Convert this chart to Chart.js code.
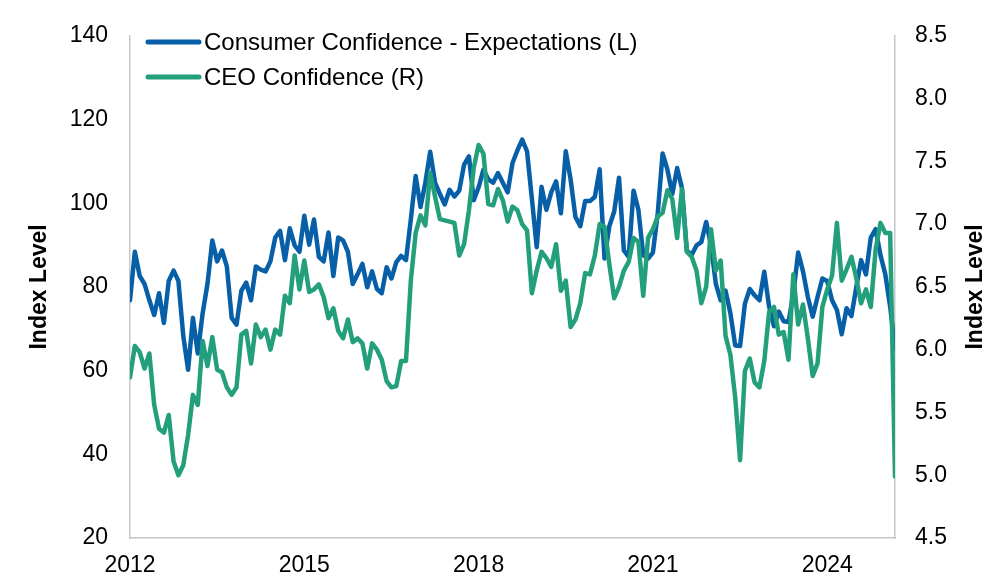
<!DOCTYPE html>
<html>
<head>
<meta charset="utf-8">
<script src="https://cdn.jsdelivr.net/npm/chart.js@4.4.1/dist/chart.umd.min.js"></script>
<style>
  html, body { margin: 0; padding: 0; background: #fff; }
  canvas { display: block; }
</style>
</head>
<body>
<canvas id="confChart" width="1005" height="577"></canvas>
<script>
// Monthly values, Jan 2012 onward
const consumerExpectations = [
  76.8, 88.4, 82.6, 80.7, 76.8, 73.3, 78.5, 71.4, 81.4, 83.9, 81.4, 68.3,
  60.2, 72.6, 64.1, 73.7, 80.7, 91.1, 86.1, 88.7, 84.9, 72.6, 71.0, 79.1,
  81.0, 76.8, 84.9, 84.1, 83.7, 86.1, 91.8, 93.4, 86.4, 94.0, 89.9, 88.4,
  97.0, 90.1, 96.1, 87.2, 86.1, 93.0, 82.6, 91.8, 91.1, 88.4, 80.7, 83.0,
  85.5, 79.9, 83.7, 79.5, 78.5, 84.7, 82.0, 85.9, 87.4, 86.4, 96.1, 106.5,
  99.1, 104.9, 112.3, 104.9, 102.2, 99.7, 103.2, 101.6, 103.0, 109.2, 111.2, 100.7,
  103.8, 108.0, 105.7, 104.9, 107.2, 104.9, 102.6, 109.6, 112.6, 115.2, 112.4, 101.1,
  89.5, 103.9, 98.4, 102.6, 105.2, 97.6, 112.4, 105.7, 96.7, 94.5, 100.5, 100.5,
  101.5, 108.1, 86.8, 94.5, 98.0, 106.1, 88.7, 87.2, 103.0, 98.4, 87.6, 86.8,
  88.2, 97.6, 111.9, 108.0, 102.2, 108.4, 103.6, 88.7, 87.6, 89.9, 90.7, 95.5,
  89.9, 80.7, 76.8, 79.1, 73.7, 66.0, 65.9, 76.0, 79.5, 78.0, 76.8, 83.6,
  75.3, 70.6, 74.1, 71.8, 71.6, 78.3, 88.2, 83.7, 77.6, 72.9, 77.6, 82.0,
  81.4, 76.8, 74.5, 68.7, 74.9, 73.0, 79.9, 86.4, 83.0, 91.8, 93.8, 87.6,
  83.0, 75.3, 65.2
];

const ceoConfidence = [
  5.78, 6.03, 5.98, 5.85, 5.97, 5.56, 5.37, 5.34, 5.48, 5.11, 5.00, 5.08,
  5.32, 5.64, 5.56, 6.07, 5.87, 6.10, 5.84, 5.82, 5.70, 5.64, 5.70, 6.12,
  6.15, 5.89, 6.20, 6.10, 6.16, 6.00, 6.16, 6.12, 6.43, 6.37, 6.75, 6.48,
  6.71, 6.46, 6.48, 6.52, 6.42, 6.25, 6.33, 6.15, 6.09, 6.24, 6.06, 6.09,
  6.05, 5.85, 6.05, 6.00, 5.92, 5.75, 5.70, 5.71, 5.91, 5.91, 6.55, 6.93,
  7.07, 6.99, 7.41, 7.22, 7.04, 7.03, 7.02, 7.01, 6.75, 6.84, 7.11, 7.45,
  7.63, 7.56, 7.16, 7.15, 7.28, 7.19, 7.02, 7.14, 7.11, 7.00, 6.95, 6.45,
  6.63, 6.78, 6.73, 6.66, 6.84, 6.47, 6.55, 6.18, 6.24, 6.37, 6.61, 6.60,
  6.75, 7.00, 6.98, 6.68, 6.41, 6.50, 6.63, 6.70, 6.89, 6.86, 6.43, 6.89,
  6.96, 7.06, 7.09, 7.27, 7.20, 6.89, 7.28, 6.78, 6.74, 6.63, 6.37, 6.50,
  6.96, 6.63, 6.71, 6.11, 5.96, 5.62, 5.12, 5.83, 5.93, 5.74, 5.70, 5.91,
  6.30, 6.34, 6.12, 6.14, 5.92, 6.60, 6.20, 6.36, 6.09, 5.79, 5.89, 6.34,
  6.48, 6.59, 7.01, 6.55, 6.64, 6.74, 6.57, 6.37, 6.48, 6.34, 6.80, 7.01,
  6.93, 6.93, 4.99
];

// x axis labels sit every 36 months
const tickIdx = [0, 36, 72, 108, 144];
const tickLabels = ['2012', '2015', '2018', '2021', '2024'];

const blueColor = '#075FA8',
  greenColor = '#23A07B',
  axisColor = '#C3C7CB',
  fontFamily = '"Liberation Sans", Arial, sans-serif';

const tickFont = { family: fontFamily, size: 23 };
const titleFont = { family: fontFamily, size: 23, weight: 'bold' };

// Legend sits inside the plot, top left; right title reads bottom-to-top
const overlayPlugin = {
  id: 'overlay',
  afterDraw(chart) {
    const ctx = chart.ctx;
    ctx.save();
    chart.data.datasets.forEach((ds, i) => {
      const y = 42 + i * 35;
      ctx.strokeStyle = ds.borderColor;
      ctx.lineWidth = 5;
      ctx.lineCap = 'round';
      ctx.beginPath();
      ctx.moveTo(148, y);
      ctx.lineTo(199, y);
      ctx.stroke();
      ctx.fillStyle = '#000';
      ctx.font = '24px ' + fontFamily;
      ctx.textBaseline = 'middle';
      ctx.textAlign = 'left';
      ctx.fillText(ds.label, 204, y + 1);
    });
    const area = chart.chartArea;
    ctx.translate(976, (area.top + area.bottom) / 2);
    ctx.rotate(-Math.PI / 2);
    ctx.font = 'bold 23px ' + fontFamily;
    ctx.textAlign = 'center';
    ctx.fillText('Index Level', 0, 0);
    ctx.restore();
  }
};

const points = arr => arr.map((v, i) => ({ x: i, y: v }));

new Chart(document.getElementById('confChart'), {
  type: 'line',
  data: {
    datasets: [
      {
        label: 'Consumer Confidence - Expectations (L)',
        data: points(consumerExpectations),
        borderColor: blueColor,
        yAxisID: 'y',
        order: 1
      },
      {
        label: 'CEO Confidence (R)',
        data: points(ceoConfidence),
        borderColor: greenColor,
        yAxisID: 'y1',
        order: 0
      }
    ]
  },
  options: {
    responsive: false,
    animation: false,
    layout: { padding: { top: 20, left: 0, right: 0, bottom: 0 } },
    elements: {
      point: { radius: 0 },
      line: { borderWidth: 4.5, tension: 0, borderJoinStyle: 'round', borderCapStyle: 'round' }
    },
    plugins: {
      legend: { display: false },
      tooltip: { enabled: false }
    },
    scales: {
      x: {
        type: 'linear',
        min: 0,
        max: consumerExpectations.length - 1,
        afterBuildTicks: s => { s.ticks = tickIdx.map(v => ({ value: v })); },
        afterFit: s => { s.height = 39; },
        ticks: {
          autoSkip: false,
          maxRotation: 0,
          padding: 14,
          color: '#000',
          font: tickFont,
          callback: v => tickLabels[tickIdx.indexOf(v)]
        },
        grid: { display: false, drawTicks: false },
        border: { color: axisColor, width: 1.5 }
      },
      y: {
        position: 'left',
        min: 20,
        max: 140,
        afterFit: s => { s.width = 130; },
        ticks: { stepSize: 20, padding: 22, color: '#000', font: tickFont },
        title: { display: true, text: 'Index Level', color: '#000', font: titleFont, padding: { top: 26 } },
        grid: { display: false, drawTicks: false },
        border: { color: axisColor, width: 1.5 }
      },
      y1: {
        position: 'right',
        min: 4.5,
        max: 8.5,
        afterFit: s => { s.width = 110; },
        ticks: {
          stepSize: 0.5,
          padding: 20,
          color: '#000',
          font: tickFont,
          callback: v => v.toFixed(1)
        },
        grid: { display: false, drawTicks: false },
        border: { color: axisColor, width: 1.5 }
      }
    }
  },
  plugins: [overlayPlugin]
});
</script>
</body>
</html>
